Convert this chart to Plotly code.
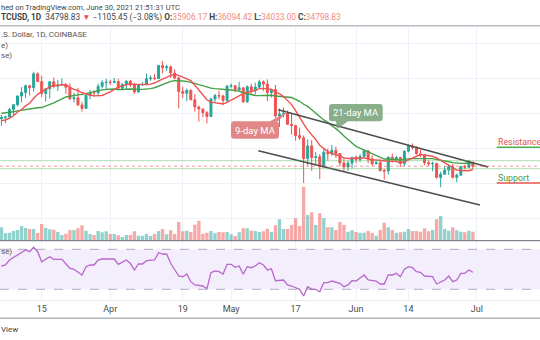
import pandas as pd
import plotly.graph_objects as go

# ---------------- data ----------------
dates = pd.date_range("2021-03-05", "2021-06-30", freq="D")

opens = [48374, 48758, 48871, 50971, 52375, 54884, 55851, 57773, 57221, 61188,
         58968, 55605, 56900, 58913, 57648, 58030, 58102, 57352, 54083, 54341,
         52303, 51293, 55025, 55817, 55777, 57628, 58730, 58800, 58740, 58985,
         57059, 58200, 59130, 57990, 56010, 58090, 58100, 59770, 60000, 59860,
         63580, 62960, 63200, 61400, 60000, 56150, 55630, 56470, 53800, 51700,
         51150, 50100, 49000, 54000, 55000, 54850, 53550, 57700, 57800, 56600,
         57200, 53200, 57500, 56400, 57400, 58900, 58250, 55850, 56700, 49150,
         49700, 49900, 46760, 46430, 43550, 42900, 37000, 40600, 37300, 37500,
         34700, 38800, 38300, 39300, 38400, 35700, 34600, 35700, 37300, 36700,
         37600, 39200, 36900, 35500, 35800, 33560, 33400, 37400, 36700, 37300,
         35550, 39100, 40500, 40150, 38350, 38100, 35800, 35500, 35600, 31600,
         32500, 33700, 34660, 31600, 32250, 34700, 34500, 35906.17]
highs = [49448, 49200, 51450, 52400, 54900, 57387, 58150, 58058, 61788, 61597,
         60633, 56938, 58981, 60100, 59450, 59880, 58589, 58430, 55830, 57200,
         53240, 55100, 56600, 56570, 58400, 59368, 59800, 59490, 60000, 59800,
         58500, 59250, 59450, 58650, 58150, 58850, 61200, 60700, 61200, 63750,
         64854, 63800, 63550, 62500, 60400, 57500, 57000, 56750, 55400, 52100,
         51150, 50550, 54350, 55450, 56400, 55200, 57950, 58450, 57950, 58950,
         57200, 57900, 58350, 58650, 59500, 59300, 59600, 56900, 58000, 51300,
         51550, 50700, 49800, 46600, 45800, 43600, 42500, 42250, 38850, 38300,
         39950, 39800, 40850, 40400, 38400, 37300, 36450, 37500, 37900, 38250,
         39500, 39300, 37900, 36450, 36800, 34050, 37550, 38400, 37700, 37450,
         39350, 41000, 41300, 40500, 39550, 38200, 36450, 36100, 35750, 33300,
         34850, 35250, 35500, 32700, 34700, 35300, 36600, 36094.42]
lows = [46300, 47070, 48870, 49274, 51845, 53005, 54272, 55013, 56083, 58900,
        54600, 53271, 54123, 57023, 56270, 57820, 55450, 53650, 53000, 52000,
        50400, 51225, 53966, 54700, 54900, 57000, 56900, 57950, 58500, 56880,
        56500, 56800, 57400, 55470, 55780, 57700, 57950, 59200, 59400, 59860,
        61300, 62000, 60000, 59600, 51300, 54200, 53400, 53600, 50400, 47500,
        48800, 47000, 48800, 53200, 53900, 52350, 53050, 57050, 56000, 56450,
        53000, 52900, 55250, 55250, 56950, 56250, 53400, 54400, 48600, 46000,
        48800, 46650, 43850, 42100, 42300, 30000, 35000, 33500, 35250, 31100,
        34400, 36400, 37800, 37200, 34800, 33400, 33400, 34200, 35700, 35950,
        37200, 35600, 34800, 35300, 33300, 31000, 32400, 35800, 35900, 34600,
        34800, 38750, 39500, 38150, 37400, 35150, 34850, 33350, 31300, 28800,
        32300, 32300, 31300, 30200, 32000, 33900, 34250, 34033.00]
closes = [48758, 48871, 50971, 52375, 54884, 55851, 57773, 57221, 61188, 58968,
          55605, 56900, 58913, 57648, 58030, 58102, 57352, 54083, 54341, 52303,
          51293, 55025, 55817, 55777, 57628, 58730, 58800, 58740, 58985, 57059,
          58200, 59130, 57990, 56010, 58090, 58100, 59770, 60000, 59860, 63580,
          62960, 63200, 61400, 60000, 56150, 55630, 56470, 53800, 51700, 51150,
          50100, 49000, 54000, 55000, 54850, 53550, 57700, 57800, 56600, 57200,
          53200, 57500, 56400, 57400, 58900, 58250, 55850, 56700, 49150, 49700,
          49900, 46760, 46430, 43550, 42900, 37000, 40600, 37300, 37500, 34700,
          38800, 38300, 39300, 38400, 35700, 34600, 35700, 37300, 36700, 37600,
          39200, 36900, 35500, 35800, 33560, 33400, 37400, 36700, 37300, 35550,
          39100, 40500, 40150, 38350, 38100, 35800, 35500, 35600, 31600, 32500,
          33700, 34660, 31600, 32250, 34700, 34500, 35906.17, 34798.83]

volumes = [20000, 11000, 12000, 14500, 16000, 22000, 19000, 17500, 17500, 11500,
           25000, 19000, 17000, 16500, 13000, 8500, 10500, 16000, 16000, 18500,
           23000, 15000, 10000, 8500, 14500, 12500, 14000, 10000, 10000, 8000,
           5500, 8500, 8500, 14000, 7500, 7500, 10000, 7000, 10000, 14500,
           17500, 9500, 15500, 10000, 28000, 14000, 15000, 13000, 24000, 30000,
           10500, 12000, 14500, 11000, 13000, 12500, 13000, 9500, 7000, 12500,
           18500, 18500, 15000, 14500, 13000, 14000, 18000, 13000, 23000, 32000,
           17500, 17500, 23500, 33500, 22000, 81000, 38500, 42500, 23500, 41000,
           33500, 20000, 20000, 16000, 28000, 23500, 13500, 15500, 13000, 12000,
           12000, 14500, 11500, 7500, 16000, 27000, 20000, 16000, 12000, 12500,
           13500, 17500, 14500, 14500, 13500, 18500, 14000, 16000, 32000, 37000,
           17500, 15000, 20000, 15500, 13500, 12500, 15000, 13500]

ma9 = [47810, 48010, 48530, 49220, 50300, 50990, 52030, 52790, 54210, 55340,
       56090, 56750, 57480, 57790, 58030, 58060, 58080, 57290, 56770, 56410,
       55780, 55350, 55150, 54900, 54850, 55000, 55520, 56010, 56760, 57400,
       57750, 58120, 58360, 58180, 58110, 58030, 58150, 58260, 58570, 59170,
       59600, 60170, 60770, 60990, 60770, 60310, 59920, 59240, 57920, 56610,
       55160, 53780, 53110, 52980, 52900, 52570, 53010, 53680, 54290, 55080,
       55540, 55930, 56090, 56370, 56970, 57030, 56810, 56820, 55930, 55540,
       54690, 53620, 52400, 50700, 48990, 46900, 45110, 43790, 42440, 40750,
       39860, 38960, 38490, 37990, 37840, 37180, 37000, 36980, 37200, 37070,
       37170, 36900, 36580, 36590, 36470, 36220, 36230, 36230, 36200, 35790,
       36030, 36590, 37070, 37610, 38130, 37950, 37820, 37630, 37190, 36460,
       35700, 35090, 34340, 33690, 33570, 33460, 33490, 33850]

ma21 = [49940, 50020, 50130, 50340, 50620, 50800, 51090, 51150, 51400, 51480,
        51550, 51930, 52370, 52880, 53440, 54000, 54580, 54790, 55080, 55170,
        55310, 55600, 55940, 56160, 56410, 56600, 56740, 56780, 56870, 56670,
        56640, 56800, 56850, 56720, 56740, 56740, 56820, 56950, 57220, 57660,
        58170, 58740, 59040, 59240, 59260, 59160, 59050, 58820, 58480, 58110,
        57780, 57340, 57090, 56950, 56900, 56680, 56660, 56570, 56400, 56280,
        55780, 55520, 55200, 55010, 54960, 55060, 55070, 55080, 54860, 54760,
        54700, 54540, 54420, 53920, 53350, 52500, 51880, 50910, 49940, 48900,
        48020, 47310, 46450, 45590, 44560, 43400, 42330, 41440, 40490, 39940,
        39440, 38820, 38280, 37780, 37300, 36850, 36870, 36680, 36680, 36590,
        36800, 36880, 36970, 36920, 36910, 36910, 36960, 36950, 36680, 36480,
        36300, 36080, 35830, 35670, 35620, 35660, 35780, 35660]

rsi_dates = ["2021-03-05", "2021-03-06", "2021-03-07", "2021-03-09", "2021-03-10",
             "2021-03-11", "2021-03-12", "2021-03-13", "2021-03-14", "2021-03-15",
             "2021-03-17", "2021-03-18", "2021-03-20", "2021-03-22", "2021-03-23",
             "2021-03-25", "2021-03-26", "2021-03-27", "2021-03-28", "2021-03-29",
             "2021-03-30", "2021-04-02", "2021-04-03", "2021-04-05", "2021-04-06",
             "2021-04-07", "2021-04-08", "2021-04-09", "2021-04-10", "2021-04-12",
             "2021-04-13", "2021-04-14", "2021-04-15", "2021-04-16", "2021-04-18",
             "2021-04-19", "2021-04-20", "2021-04-21", "2021-04-22", "2021-04-24",
             "2021-04-25", "2021-04-26", "2021-04-27", "2021-04-28", "2021-04-29",
             "2021-04-30", "2021-05-01", "2021-05-02", "2021-05-03", "2021-05-04",
             "2021-05-05", "2021-05-06", "2021-05-07", "2021-05-08", "2021-05-09",
             "2021-05-10", "2021-05-11", "2021-05-12", "2021-05-14", "2021-05-15",
             "2021-05-16", "2021-05-18", "2021-05-19", "2021-05-20", "2021-05-21",
             "2021-05-22", "2021-05-23", "2021-05-24", "2021-05-25", "2021-05-26",
             "2021-05-28", "2021-05-29", "2021-05-30", "2021-05-31", "2021-06-01",
             "2021-06-03", "2021-06-04", "2021-06-06", "2021-06-07", "2021-06-08",
             "2021-06-09", "2021-06-10", "2021-06-11", "2021-06-12", "2021-06-13",
             "2021-06-14", "2021-06-15", "2021-06-16", "2021-06-17", "2021-06-18",
             "2021-06-20", "2021-06-21", "2021-06-23", "2021-06-24", "2021-06-25",
             "2021-06-26", "2021-06-27", "2021-06-28", "2021-06-29", "2021-06-30"]
rsi_vals = [53.3, 54.3, 59.3, 64.3, 66.6, 69.3, 67.6, 72.0, 67.6, 57.6,
            62.6, 60.0, 60.0, 51.0, 50.0, 44.3, 52.6, 54.3, 54.3, 59.3,
            60.3, 60.3, 55.0, 59.3, 56.0, 49.3, 55.3, 55.3, 58.6, 59.3,
            66.6, 65.3, 65.3, 56.0, 43.3, 42.6, 45.3, 37.6, 34.3, 33.3,
            30.6, 46.6, 48.3, 47.6, 45.3, 55.0, 55.0, 52.0, 53.3, 45.0,
            52.6, 51.6, 53.3, 56.6, 54.3, 49.3, 50.5, 38.6, 39.3, 34.3,
            33.3, 30.0, 23.3, 32.6, 30.0, 30.0, 27.6, 36.6, 36.6, 38.3,
            36.0, 32.6, 34.3, 38.6, 38.3, 44.3, 39.3, 38.3, 35.3, 35.3,
            44.3, 44.3, 46.0, 42.6, 50.0, 52.6, 51.6, 47.6, 47.0, 43.3,
            42.6, 35.3, 39.3, 43.3, 37.6, 39.3, 46.0, 46.0, 49.3, 47.0]

# drawn channel (two points each) and horizontal levels
upper_channel_dates = ["2021-05-12 17:00", "2021-07-03 19:00"]
upper_channel_prices = [50943, 34571]
lower_channel_dates = ["2021-05-07 18:00", "2021-07-01 18:00"]
lower_channel_prices = [39229, 23714]
level_prices = [36371, 34086]
last_close = 34798.83

tick_dates = ["2021-03-15", "2021-04-01", "2021-04-19", "2021-05-01",
              "2021-05-17", "2021-06-01", "2021-06-14", "2021-07-01"]
tick_labels = ["15", "Apr", "19", "May", "17", "Jun", "14", "Jul"]
price_grid = [20000, 30000, 40000, 50000, 60000, 70000]
rsi_grid = [20, 40, 60]

# ---------------- layout helpers ----------------
W, H = 540, 340
def px(x):
    return x / W
def py(y):
    return 1 - y / H

UP, DOWN = "#26a69a", "#ef5350"
GRID = "#edf1f8"
FONT = "Roboto, 'Liberation Sans', sans-serif"

vol_colors = ["rgba(38,166,154,0.5)" if c >= o else "rgba(239,83,80,0.5)"
              for o, c in zip(opens, closes)]

fig = go.Figure()

fig.add_trace(go.Bar(x=dates, y=volumes, marker=dict(color=vol_colors, line=dict(width=0)),
                     xaxis="x", yaxis="y", hoverinfo="skip", showlegend=False))
fig.add_trace(go.Candlestick(
    x=dates, open=opens, high=highs, low=lows, close=closes,
    xaxis="x", yaxis="y2", whiskerwidth=0,
    increasing=dict(line=dict(color=UP, width=1), fillcolor=UP),
    decreasing=dict(line=dict(color=DOWN, width=1), fillcolor=DOWN),
    hoverinfo="skip", showlegend=False))
fig.add_trace(go.Scatter(x=dates, y=ma21, mode="lines", xaxis="x", yaxis="y2",
                         line=dict(color="#43a047", width=1.4), hoverinfo="skip", showlegend=False))
fig.add_trace(go.Scatter(x=dates, y=ma9, mode="lines", xaxis="x", yaxis="y2",
                         line=dict(color="#f0524f", width=1.4), hoverinfo="skip", showlegend=False))
fig.add_trace(go.Scatter(x=upper_channel_dates, y=upper_channel_prices, mode="lines",
                         xaxis="x", yaxis="y2", line=dict(color="#4d4d4d", width=1.6),
                         hoverinfo="skip", showlegend=False))
fig.add_trace(go.Scatter(x=lower_channel_dates, y=lower_channel_prices, mode="lines",
                         xaxis="x", yaxis="y2", line=dict(color="#4d4d4d", width=1.6),
                         hoverinfo="skip", showlegend=False))
fig.add_trace(go.Scatter(x=rsi_dates, y=rsi_vals, mode="lines", xaxis="x2", yaxis="y3",
                         line=dict(color="#b867cc", width=1.3), hoverinfo="skip", showlegend=False))

x_range = ["2021-03-04 15:40", "2021-07-16 15:36"]
main_dom = [py(240.7), py(26)]
rsi_dom = [py(300), py(241)]

fig.update_layout(
    width=W, height=H, autosize=False,
    margin=dict(l=0, r=0, t=0, b=0, pad=0),
    paper_bgcolor="white", plot_bgcolor="white",
    bargap=0.17, showlegend=False,
    font=dict(family=FONT, color="#4a4a4a", size=9),
    xaxis=dict(domain=[0, 1], anchor="y", range=x_range, type="date",
               tickvals=tick_dates, showticklabels=False, ticks="",
               showgrid=True, gridcolor=GRID, gridwidth=1, zeroline=False,
               showline=False, rangeslider=dict(visible=False), fixedrange=True),
    xaxis2=dict(domain=[0, 1], anchor="y3", matches="x", type="date",
                tickvals=tick_dates, ticktext=tick_labels, ticks="",
                ticklabelstandoff=2,
                tickfont=dict(size=9, color="#4a4a4a"),
                showgrid=True, gridcolor=GRID, gridwidth=1, zeroline=False,
                showline=False, fixedrange=True),
    yaxis=dict(domain=main_dom, range=[0, 322050], showgrid=False,
               showticklabels=False, zeroline=False, fixedrange=True),
    yaxis2=dict(overlaying="y", range=[13514, 74857], tickvals=price_grid,
                showgrid=True, gridcolor=GRID, showticklabels=False,
                zeroline=False, fixedrange=True),
    yaxis3=dict(domain=rsi_dom, anchor="x2", range=[19.3, 78.3], tickvals=rsi_grid,
                showgrid=True, gridcolor=GRID, showticklabels=False,
                zeroline=False, fixedrange=True),
)

shapes = []
# RSI band and its dashed bounds
shapes.append(dict(type="rect", xref="paper", yref="y3", x0=0, x1=1, y0=30, y1=70,
                   fillcolor="rgba(153,102,230,0.11)", line=dict(width=0), layer="below"))
for lvl in (30, 70):
    shapes.append(dict(type="line", xref="paper", yref="y3", x0=0, x1=1, y0=lvl, y1=lvl,
                       line=dict(color="rgba(130,115,150,0.6)", width=1, dash="dash")))
# horizontal drawn levels and last price line
for lvl in level_prices:
    shapes.append(dict(type="line", xref="paper", yref="y2", x0=0, x1=1, y0=lvl, y1=lvl,
                       line=dict(color="rgba(76,175,80,0.35)", width=1.2)))
shapes.append(dict(type="line", xref="paper", yref="y2", x0=0, x1=1, y0=last_close, y1=last_close,
                   line=dict(color="rgba(239,83,80,0.6)", width=1, dash="dot")))
# separators
def hline(y, color, w):
    return dict(type="line", xref="paper", yref="paper", x0=0, x1=1, y0=py(y), y1=py(y),
                line=dict(color=color, width=w))
shapes.append(hline(25.7, "#b9bcc4", 1.5))
shapes.append(hline(240.7, "#7f838c", 1.2))
shapes.append(hline(300.5, "#e6e9ef", 1))
shapes.append(hline(318.3, "#b2b5be", 1.5))
# Resistance / Support underlines
shapes.append(dict(type="line", xref="paper", yref="paper", x0=px(496.7), x1=1,
                   y0=py(147.3), y1=py(147.3), line=dict(color="#4caf50", width=1.5)))
shapes.append(dict(type="line", xref="paper", yref="paper", x0=px(496.7), x1=1,
                   y0=py(183), y1=py(183), line=dict(color="#ef5350", width=1.5)))

def callout(x0, y0, x1, y1, tail, color, r=3):
    # rounded rectangle + triangular pointer, pixel coordinates -> paper
    def P(x, y):
        return f"{px(x):.5f},{py(y):.5f}"
    (tb0, tb1, tip, side) = tail
    d = f"M {P(x0 + r, y0)} "
    if side == "top":
        d += f"L {P(tb0, y0)} L {P(*tip)} L {P(tb1, y0)} "
    d += f"L {P(x1 - r, y0)} Q {P(x1, y0)} {P(x1, y0 + r)} "
    d += f"L {P(x1, y1 - r)} Q {P(x1, y1)} {P(x1 - r, y1)} "
    if side == "bottom":
        d += f"L {P(tb1, y1)} L {P(*tip)} L {P(tb0, y1)} "
    d += f"L {P(x0 + r, y1)} Q {P(x0, y1)} {P(x0, y1 - r)} "
    d += f"L {P(x0, y0 + r)} Q {P(x0, y0)} {P(x0 + r, y0)} Z"
    return dict(type="path", xref="paper", yref="paper", path=d,
                fillcolor=color, line=dict(width=0))

shapes.append(callout(231, 121.3, 279, 138.7, (270, 278, (288.3, 111.3), "top"),
                      "rgba(222,118,118,0.88)"))
shapes.append(callout(329, 104, 382.7, 121.3, (336, 348, (337, 129), "bottom"),
                      "rgba(118,160,118,0.85)"))
fig.update_layout(shapes=shapes)

ann = []
def text(x, y, s, anchor="left", size=9, color="#4a4a4a"):
    ann.append(dict(xref="paper", yref="paper", x=px(x), y=py(y), text=s, showarrow=False,
                    xanchor=anchor, yanchor="middle", font=dict(size=size, color=color, family=FONT),
                    borderpad=0))

# header / legend fragments exactly as visible in the cropped screenshot
text(0, 7, "hed on TradingView.com, June 30, 2021 21:51:31 UTC", "left", 7.5, "#444")
line2 = ("<b>TCUSD, 1D</b>  34798.83 <span style='color:#ef5350'>▼</span> −1105.45 (−3.08%) "
         "<b>O:</b><span style='color:#f28b82'>35906.17</span> "
         "<b>H:</b><span style='color:#f28b82'>36094.42</span> "
         "<b>L:</b><span style='color:#f28b82'>34033.00</span> "
         "<b>C:</b><span style='color:#f28b82'>34798.83</span>")
text(0, 17, line2, "left", 8.3, "#444")
text(0, 35, ".S. Dollar, 1D, COINBASE", "left", 8, "#555")
text(0, 45.5, "e)", "left", 8, "#555")
text(0, 56, "se)", "left", 8, "#555")
text(0, 251.7, "se)", "left", 8, "#555")
text(0, 329, "View", "left", 8, "#444")
text(255, 130, "9-day MA", "center", 9.5, "white")
text(356, 112.7, "21-day MA", "center", 9.5, "white")
text(497, 142.3, "Resistance", "left", 8.8, "#e05353")
text(497, 178, "Support", "left", 8.8, "#3f9a43")
fig.update_layout(annotations=ann)

fig.write_html("out.html", config=dict(displayModeBar=False, staticPlot=True))
